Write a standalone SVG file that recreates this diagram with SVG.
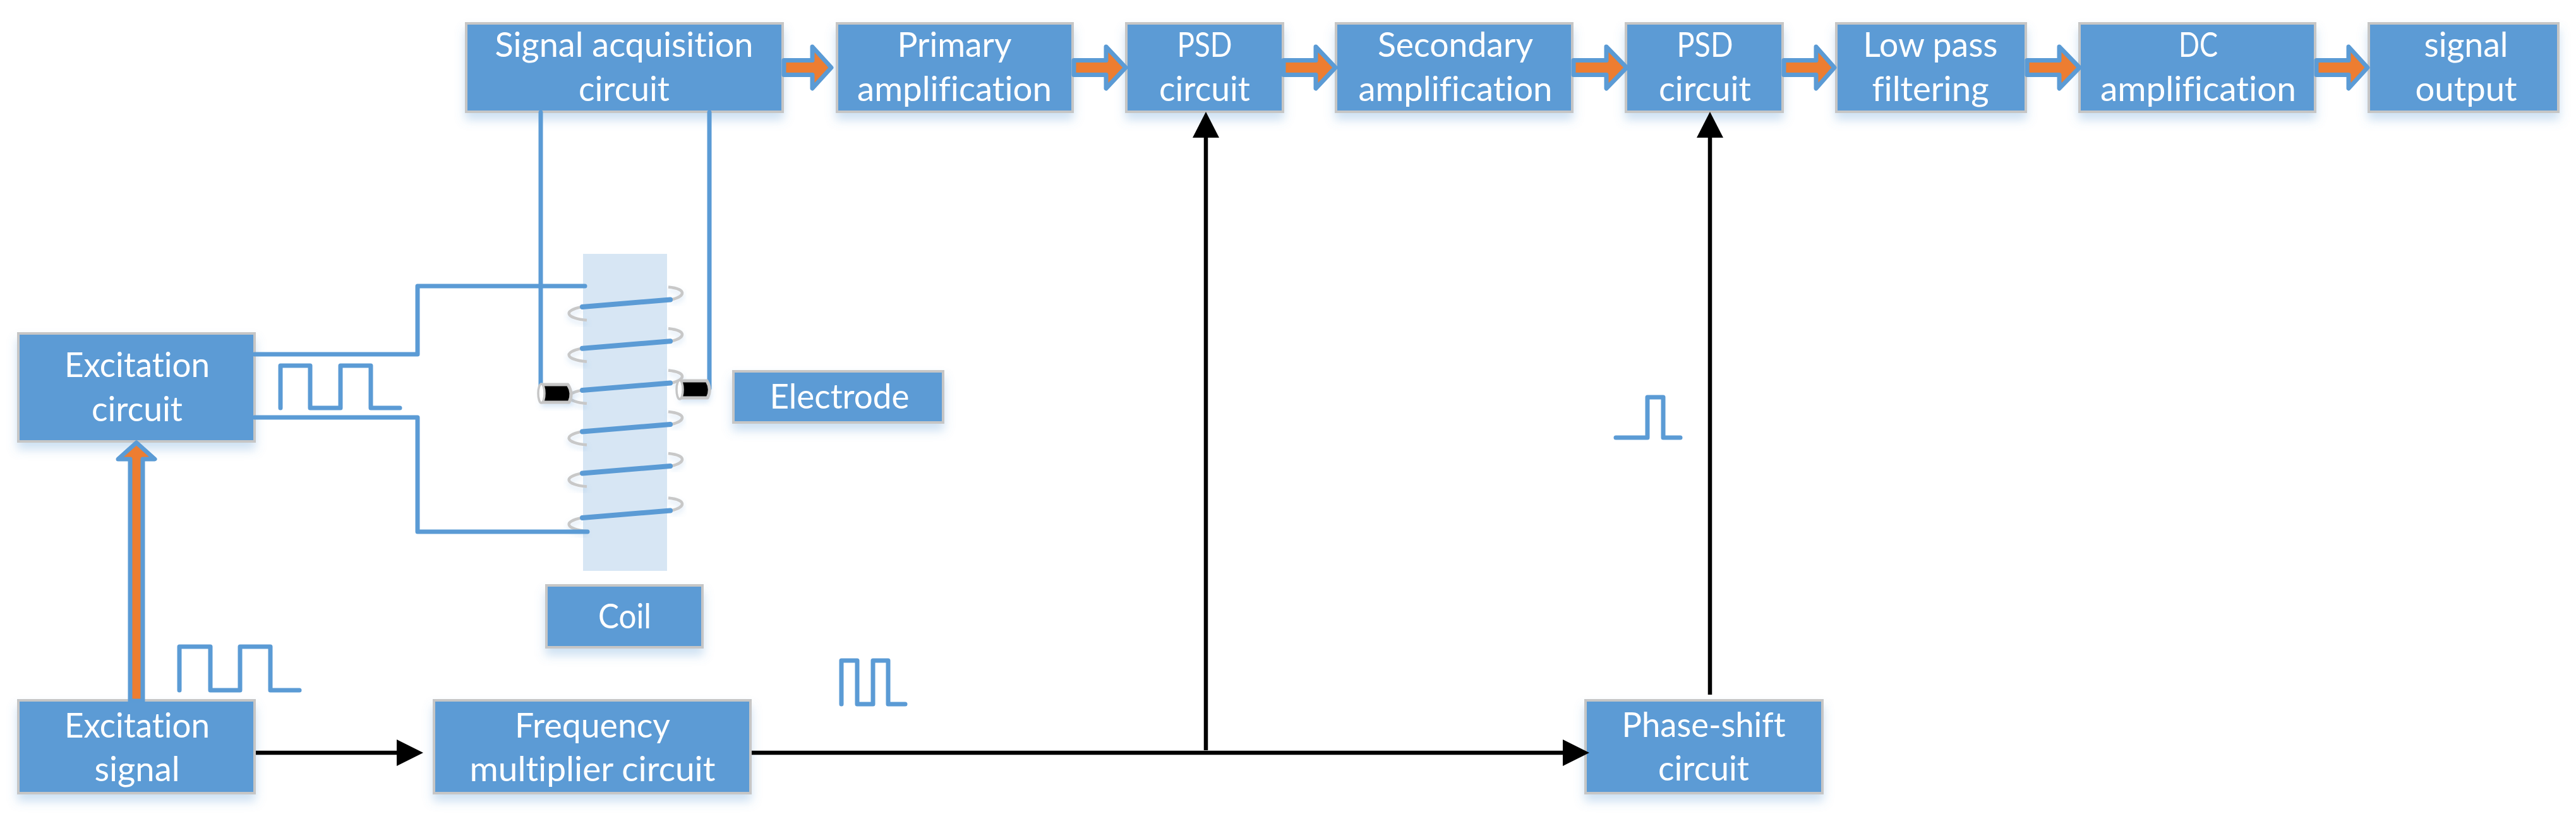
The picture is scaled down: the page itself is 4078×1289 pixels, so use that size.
<svg xmlns="http://www.w3.org/2000/svg" xmlns:xlink="http://www.w3.org/1999/xlink" width="4078" height="1289" viewBox="0 0 4078 1289">
<style>
.box{fill:#5B9BD5;stroke:#C6C6C6;stroke-width:4;filter:url(#sh)}
text{font-family:"Lato","Carlito","Liberation Sans",sans-serif;font-size:55px;fill:#fff;text-anchor:middle;font-variant-ligatures:none}
.wire{fill:none;stroke:#5B9BD5;stroke-width:7;stroke-linejoin:round;stroke-linecap:round}
.wave{fill:none;stroke:#5B9BD5;stroke-width:7;stroke-linejoin:round;stroke-linecap:round}
.fat{fill:#ED7D31;stroke:#5B9BD5;stroke-width:7;stroke-linejoin:round}
.blk{fill:none;stroke:#000;stroke-width:6.5}
.head{fill:#000}
.arc{fill:none;stroke:#C8C8C8;stroke-width:4.5;filter:url(#sh2)}
.turn{fill:none;stroke:#5B9BD5;stroke-width:8;stroke-linecap:round}
.el{fill:#000;stroke:#C6C6C6;stroke-width:5;stroke-linejoin:round;filter:url(#sh2)}
.cap{fill:#fff;stroke:#C6C6C6;stroke-width:3.5}
</style>
<defs>
<filter id="sh" x="-15%" y="-15%" width="130%" height="160%"><feDropShadow dx="0" dy="11" stdDeviation="8" flood-color="#5B9BD5" flood-opacity="0.3"/></filter>
<filter id="sh2" x="-30%" y="-30%" width="160%" height="180%"><feDropShadow dx="0" dy="5" stdDeviation="4" flood-color="#5B9BD5" flood-opacity="0.25"/></filter>
<g id="coilturn">
<path class="arc" d="M921 0C890 6 896 18 929 21"/>
<path class="arc" d="M1058 -31.5C1088 -28.5 1085 -16.5 1063 -11.5"/>
<path class="turn" d="M922 0L1061 -11.5"/>
</g>
</defs>
<rect width="4078" height="1289" fill="#fff"/>

<g id="coil-core"><rect x="923" y="402" width="133" height="502" fill="#D7E6F4"/>
<use xlink:href="#coilturn" href="#coilturn" y="486"/>
<use xlink:href="#coilturn" href="#coilturn" y="551.7"/>
<use xlink:href="#coilturn" href="#coilturn" y="618"/>
<use xlink:href="#coilturn" href="#coilturn" y="683.5"/>
<use xlink:href="#coilturn" href="#coilturn" y="749.5"/>
<use xlink:href="#coilturn" href="#coilturn" y="820"/>
</g>

<g id="n-signal-acq"><rect class="box" x="738" y="37" width="501" height="140"/><text x="988" y="90" textLength="409" lengthAdjust="spacingAndGlyphs">Signal acquisition</text><text x="988" y="160" textLength="144" lengthAdjust="spacingAndGlyphs">circuit</text></g>
<g id="n-primary"><rect class="box" x="1325" y="37" width="373" height="140"/><text x="1511" y="90" textLength="181" lengthAdjust="spacingAndGlyphs">Primary</text><text x="1511" y="160" textLength="308" lengthAdjust="spacingAndGlyphs">amplification</text></g>
<g id="n-psd1"><rect class="box" x="1783" y="37" width="248" height="140"/><text x="1907" y="90" textLength="87" lengthAdjust="spacingAndGlyphs">PSD</text><text x="1907" y="160" textLength="144" lengthAdjust="spacingAndGlyphs">circuit</text></g>
<g id="n-secondary"><rect class="box" x="2115" y="37" width="374" height="140"/><text x="2304" y="90" textLength="246" lengthAdjust="spacingAndGlyphs">Secondary</text><text x="2304" y="160" textLength="307" lengthAdjust="spacingAndGlyphs">amplification</text></g>
<g id="n-psd2"><rect class="box" x="2574" y="37" width="248" height="140"/><text x="2699" y="90" textLength="89" lengthAdjust="spacingAndGlyphs">PSD</text><text x="2699" y="160" textLength="146" lengthAdjust="spacingAndGlyphs">circuit</text></g>
<g id="n-lowpass"><rect class="box" x="2907" y="37" width="300" height="140"/><text x="3056" y="90" textLength="213" lengthAdjust="spacingAndGlyphs">Low pass</text><text x="3056" y="160" textLength="185" lengthAdjust="spacingAndGlyphs">filtering</text></g>
<g id="n-dc"><rect class="box" x="3292" y="37" width="373" height="140"/><text x="3480" y="90" textLength="62" lengthAdjust="spacingAndGlyphs">DC</text><text x="3480" y="160" textLength="310" lengthAdjust="spacingAndGlyphs">amplification</text></g>
<g id="n-output"><rect class="box" x="3750" y="37" width="300" height="140"/><text x="3904" y="90" textLength="133" lengthAdjust="spacingAndGlyphs">signal</text><text x="3904" y="160" textLength="161" lengthAdjust="spacingAndGlyphs">output</text></g>

<g id="n-exc-circuit"><rect class="box" x="29" y="528" width="374" height="171"/><text x="217" y="597" textLength="230" lengthAdjust="spacingAndGlyphs">Excitation</text><text x="217" y="667" textLength="144" lengthAdjust="spacingAndGlyphs">circuit</text></g>
<g id="n-exc-signal"><rect class="box" x="29" y="1109" width="374" height="147"/><text x="217" y="1168" textLength="230" lengthAdjust="spacingAndGlyphs">Excitation</text><text x="217" y="1237" textLength="135" lengthAdjust="spacingAndGlyphs">signal</text></g>
<g id="n-freq"><rect class="box" x="687" y="1109" width="501" height="147"/><text x="938" y="1168" textLength="246" lengthAdjust="spacingAndGlyphs">Frequency</text><text x="938" y="1237" textLength="389" lengthAdjust="spacingAndGlyphs">multiplier circuit</text></g>
<g id="n-phase"><rect class="box" x="2510" y="1109" width="375" height="147"/><text x="2697" y="1167" textLength="259" lengthAdjust="spacingAndGlyphs">Phase-shift</text><text x="2697" y="1236" textLength="144" lengthAdjust="spacingAndGlyphs">circuit</text></g>
<g id="n-electrode"><rect class="box" x="1161" y="588" width="332" height="81"/><text x="1329" y="647" textLength="221" lengthAdjust="spacingAndGlyphs">Electrode</text></g>
<g id="n-coil"><rect class="box" x="865" y="927" width="247" height="98"/><text x="989" y="995" textLength="84" lengthAdjust="spacingAndGlyphs">Coil</text></g>

<g id="connectors">
<path class="wire" d="M856 178V626"/>
<path class="wire" d="M1123 178V615"/>
<path class="wire" d="M403 561H661V453H926"/>
<path class="wire" d="M403 661H661V842H930"/>
<path class="fat" d="M1241 95.5H1286V74L1316 107L1286 140V118.5H1241Z"/>
<path class="fat" d="M1700 95.5H1751V74L1782 107L1751 140V118.5H1700Z"/>
<path class="fat" d="M2032 95.5H2083V74L2114 107L2083 140V118.5H2032Z"/>
<path class="fat" d="M2491 95.5H2543V74L2575 107L2543 140V118.5H2491Z"/>
<path class="fat" d="M2824 95.5H2875V74L2904 107L2875 140V118.5H2824Z"/>
<path class="fat" d="M3209 95.5H3260V74L3292 107L3260 140V118.5H3209Z"/>
<path class="fat" d="M3667 95.5H3718V74L3748 107L3718 140V118.5H3667Z"/>
<path class="fat" d="M206 1110V727H187L216 701L245 727H226V1110Z"/>
<path class="blk" d="M405 1192H630"/><polygon class="head" points="628,1171 670,1192 628,1213"/>
<path class="blk" d="M1190 1192H2476"/><polygon class="head" points="2474,1171 2516,1192 2474,1213"/>
<path class="blk" d="M1909 1188V216"/><polygon class="head" points="1888,218 1909,177 1930,218"/>
<path class="blk" d="M2707 1100V216"/><polygon class="head" points="2686,218 2707,177 2728,218"/>
</g>

<g id="electrode-left"><path class="el" d="M859 609H899Q908 623 901 637H859Z"/><ellipse class="cap" cx="857" cy="623" rx="5" ry="15"/></g>
<g id="electrode-right"><path class="el" d="M1078 603H1119Q1127 617 1120 630H1078Z"/><ellipse class="cap" cx="1076" cy="617" rx="5" ry="15"/></g>

<g id="waveforms">
<path class="wave" d="M444 646V579H491V646H539V579H587V646H633"/>
<path class="wave" d="M284 1093V1024H333V1093H380V1024H428V1093H474"/>
<path class="wave" d="M1332 1115V1046H1357V1115H1382V1046H1406V1115H1433"/>
<path class="wave" d="M2558 693H2608V629H2633V693H2660"/>
</g>
</svg>
